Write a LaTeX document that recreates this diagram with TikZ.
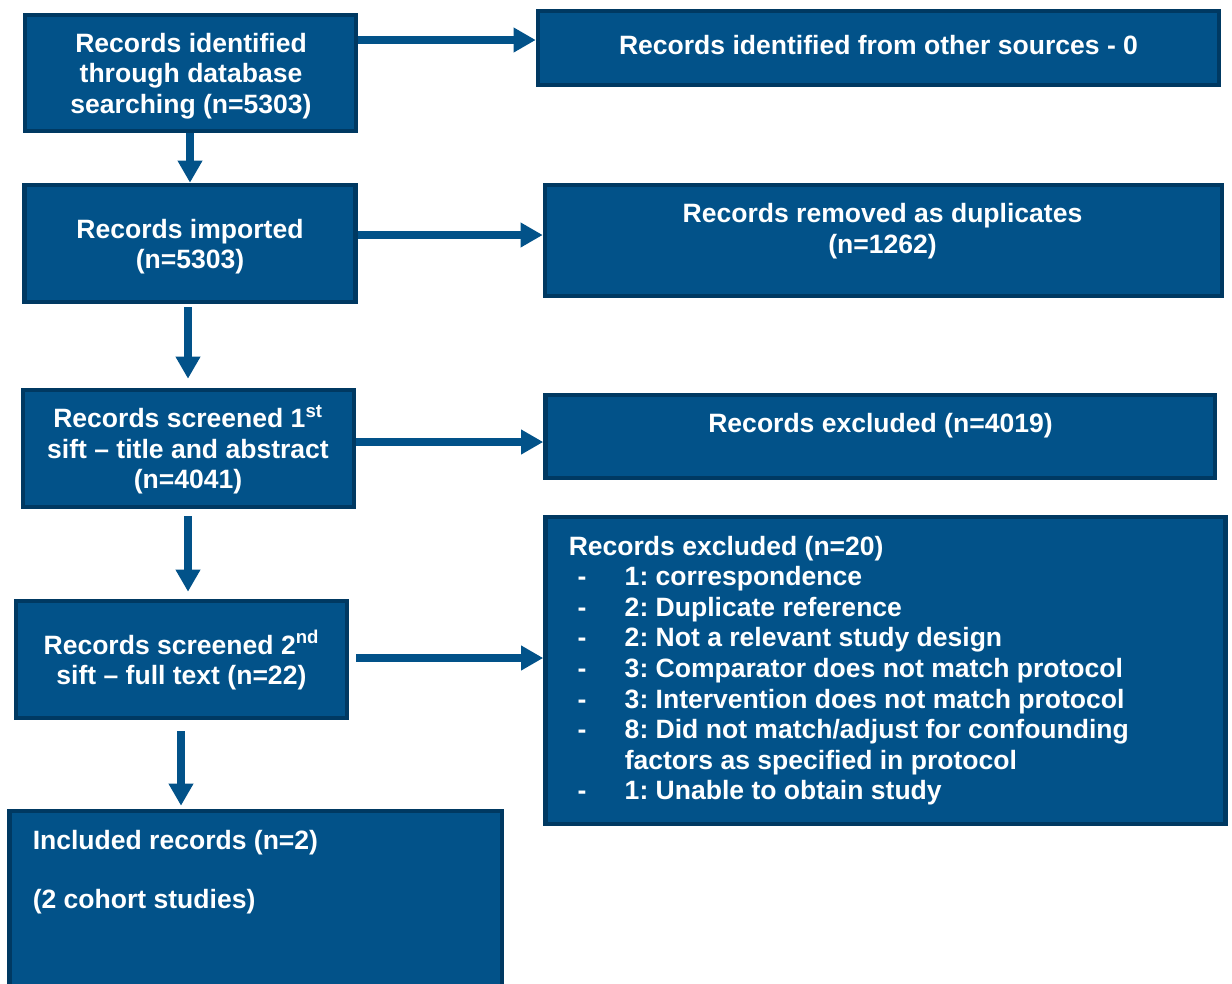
\documentclass[tikz,border=0pt]{standalone}
\usepackage{fontspec}
\setmainfont{Liberation Sans}
\usetikzlibrary{arrows.meta,fit}
\definecolor{boxfill}{RGB}{2,82,137}
\definecolor{boxline}{RGB}{0,57,98}
\pgfdeclarelayer{bg}
\pgfsetlayers{bg,main}
\newcommand\ctab[1]{\begin{tabular}[t]{@{}c@{}}#1\end{tabular}}
\newcommand\ltab[1]{\begin{tabular}[t]{@{}l@{}}#1\end{tabular}}
\newcommand\itm[1]{\hspace*{6.6pt}\makebox[35.4pt][l]{-}#1}
\frenchspacing
\begin{document}
\begin{tikzpicture}[x=0.75pt,y=-0.75pt,
  box/.style={draw=boxline, fill=boxfill, line width=3.4pt, inner sep=0pt, rectangle},
  txt/.style={text=white, font=\fontsize{19.9pt}{22.95pt}\selectfont\bfseries\frenchspacing, inner sep=0pt},
  arr/.style={draw=boxfill, line width=6pt, -{Triangle[length=16.5pt,width=17.5pt]}}]
\useasboundingbox (0,0) rectangle (1232,983);
\clip (0,0) rectangle (1232,983);

% boxes
\node[box, fit={(25,15)(356,131)}] (A) {};
\node[box, fit={(538,11)(1219,85)}] (B) {};
\node[box, fit={(24.5,185)(355.5,302)}] (C) {};
\node[box, fit={(545,185)(1222,296)}] (D) {};
\node[box, fit={(23,390)(354,507)}] (E) {};
\node[box, fit={(545.5,395)(1215,478)}] (F) {};
\node[box, fit={(16,601)(347,718)}] (G) {};
\node[box, fit={(545.5,517)(1225.5,824)}] (H) {};
\node[box, fit={(9.5,811)(502,1000)}] (I) {};

% texts
\node[txt, anchor=base] (At) at (191,52) {\ctab{Records identified\\through database\\searching (n=5303)}};
\node[txt, anchor=base] (Bt) at (878.5,54) {\ctab{Records identified from other sources - 0}};
\node[txt, anchor=base] (Ct) at (190,238) {\ctab{Records imported\\(n=5303)}};
\node[txt, anchor=base] (Dt) at (882.5,222.5) {\ctab{Records removed as duplicates\\(n=1262)}};
\node[txt, anchor=base] (Et) at (188,427.5) {\ctab{Records screened 1\textsuperscript{st}\\sift \textendash{} title and abstract\\(n=4041)}};
\node[txt, anchor=base] (Ft) at (880.5,432.5) {\ctab{Records excluded (n=4019)}};
\node[txt, anchor=base] (Gt) at (181.4,654) {\ctab{Records screened 2\textsuperscript{nd}\\sift \textendash{} full text (n=22)}};
\node[txt, anchor=base west] (Ht) at (568.5,555) {\ltab{Records excluded (n=20)\\
  \itm{1: correspondence}\\
  \itm{2: Duplicate reference}\\
  \itm{2: Not a relevant study design}\\
  \itm{3: Comparator does not match protocol}\\
  \itm{3: Intervention does not match protocol}\\
  \itm{8: Did not match/adjust for confounding}\\
  \hspace*{42pt}factors as specified in protocol\\
  \itm{1: Unable to obtain study}}};
\node[txt, anchor=base west] (It) at (32.5,849) {\ltab{Included records (n=2)\\[21.6pt](2 cohort studies)}};

% connectors
\begin{pgfonlayer}{bg}
\draw[arr] (A.east |- 0,40) -- (B.west |- 0,40);
\draw[arr] (A.south -| 190,0) -- (C.north -| 190,0);
\draw[arr] (C.east |- 0,235) -- (D.west |- 0,235);
\draw[arr, shorten <=2.25pt, shorten >=6.75pt] (C.south -| 188,0) -- (E.north -| 188,0);
\draw[arr] (E.east |- 0,442) -- (F.west |- 0,442);
\draw[arr, shorten <=5.25pt, shorten >=5.25pt] (E.south -| 188,0) -- (G.north -| 188,0);
\draw[arr, shorten <=5.25pt] (G.east |- 0,658) -- (H.west |- 0,658);
\draw[arr, shorten <=8.25pt, shorten >=2.25pt] (G.south -| 181,0) -- (I.north -| 181,0);
\end{pgfonlayer}
\end{tikzpicture}
\end{document}
